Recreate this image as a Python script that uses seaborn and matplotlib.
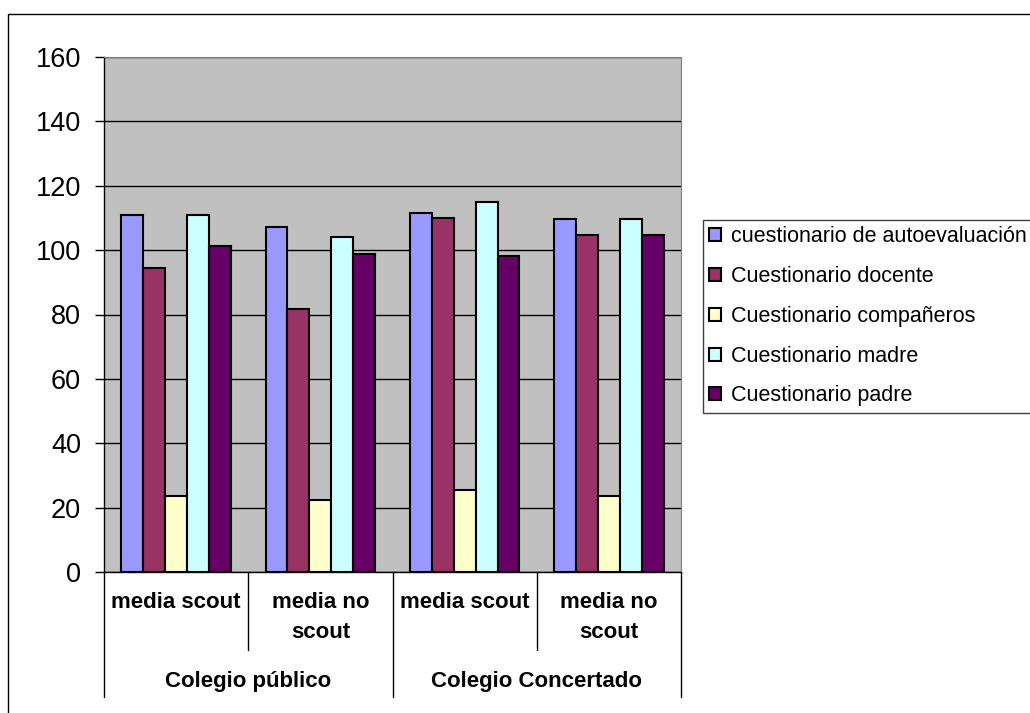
import matplotlib
matplotlib.use('Agg')
import matplotlib.pyplot as plt
import matplotlib.transforms as mtransforms
from matplotlib.patches import Rectangle
import seaborn as sns
import pandas as pd

colegios = ['Colegio público', 'Colegio Concertado']
grupos = ['media scout', 'media no\nscout']
cuestionarios = ['cuestionario de autoevaluación', 'Cuestionario docente',
                 'Cuestionario compañeros', 'Cuestionario madre', 'Cuestionario padre']

# valores por cuestionario, en orden: público scout, público no scout, concertado scout, concertado no scout
autoevaluacion = [110.8, 107.1, 111.4, 109.6]
docente = [94.6, 81.6, 110.1, 104.6]
companeros = [23.6, 22.3, 25.5, 23.6]
madre = [110.8, 104.0, 115.1, 109.6]
padre = [101.4, 98.9, 98.2, 104.6]

colores = ['#9999FF', '#993366', '#FFFFCC', '#CCFFFF', '#660066']

series = [autoevaluacion, docente, companeros, madre, padre]
claves = [f'{c}|{g}' for c in colegios for g in grupos]
filas = []
for nombre, vals in zip(cuestionarios, series):
    for k, v in zip(claves, vals):
        filas.append({'grupo': k, 'cuestionario': nombre, 'valor': v})
df = pd.DataFrame(filas)

sns.set_style('white')
plt.rcParams['font.family'] = ['Liberation Sans', 'DejaVu Sans']
plt.rcParams['text.color'] = 'black'
plt.rcParams['ytick.color'] = 'black'

fig = plt.figure(figsize=(10.3, 7.13), dpi=100)
ax = fig.add_axes([104/1030, 1-572/713, (681-104)/1030, (572-57)/713])

sns.barplot(data=df, x='grupo', y='valor', hue='cuestionario', order=claves,
            hue_order=cuestionarios, palette=colores, saturation=1, edgecolor='black',
            linewidth=1.5, width=0.76, ax=ax)

ax.set_facecolor('#C0C0C0')
ax.set_ylim(0, 160)
ax.set_xlim(-0.5, 3.5)
ax.set_yticks(range(0, 161, 20))
ax.tick_params(axis='y', labelsize=19.5, length=6.5, width=1, direction='out', left=True, pad=10)
ax.set_xticks([])
ax.set_xlabel('')
ax.set_ylabel('')
ax.yaxis.grid(True, color='black', linewidth=1)
ax.set_axisbelow(True)
for s in ['top', 'right']:
    ax.spines[s].set_color('#808080')
for s in ['left', 'bottom']:
    ax.spines[s].set_color('black')
    ax.spines[s].set_linewidth(1)

# etiquetas jerarquicas del eje x
tr = mtransforms.blended_transform_factory(ax.transData, ax.transAxes)
for x in [-0.5, 1.5, 3.5]:
    ax.plot([x, x], [0, -125/515], color='black', lw=1, transform=tr, clip_on=False)
for x in [0.5, 2.5]:
    ax.plot([x, x], [0, -78/515], color='black', lw=1, transform=tr, clip_on=False)
for i, k in enumerate(claves):
    for n, linea in enumerate(k.split('|')[1].split('\n')):
        ax.text(i, -(31 + 30*n)/515, linea, transform=tr, ha='center', va='center',
                fontsize=16, fontweight='bold')
for j, c in enumerate(colegios):
    ax.text(2*j + 0.5, -109/515, c, transform=tr, ha='center', va='center',
            fontsize=16, fontweight='bold')

handles, labels = ax.get_legend_handles_labels()
ax.get_legend().remove()
leg = fig.legend(handles, labels, loc='upper left', bbox_to_anchor=(703/1030, 1-220/713),
                 bbox_transform=fig.transFigure, fontsize=15.5, frameon=True, fancybox=False,
                 edgecolor='#404040', framealpha=1, handlelength=0.55, handleheight=0.55,
                 handletextpad=0.45, labelspacing=0.87, borderpad=0.3, borderaxespad=0)
leg.get_frame().set_linewidth(1)

fig.patches.append(Rectangle((8/1030, -0.1), 1.2, 1.1 - 14/713, transform=fig.transFigure,
                             fill=False, edgecolor='black', lw=1))

fig.savefig('out.png', dpi=100)
